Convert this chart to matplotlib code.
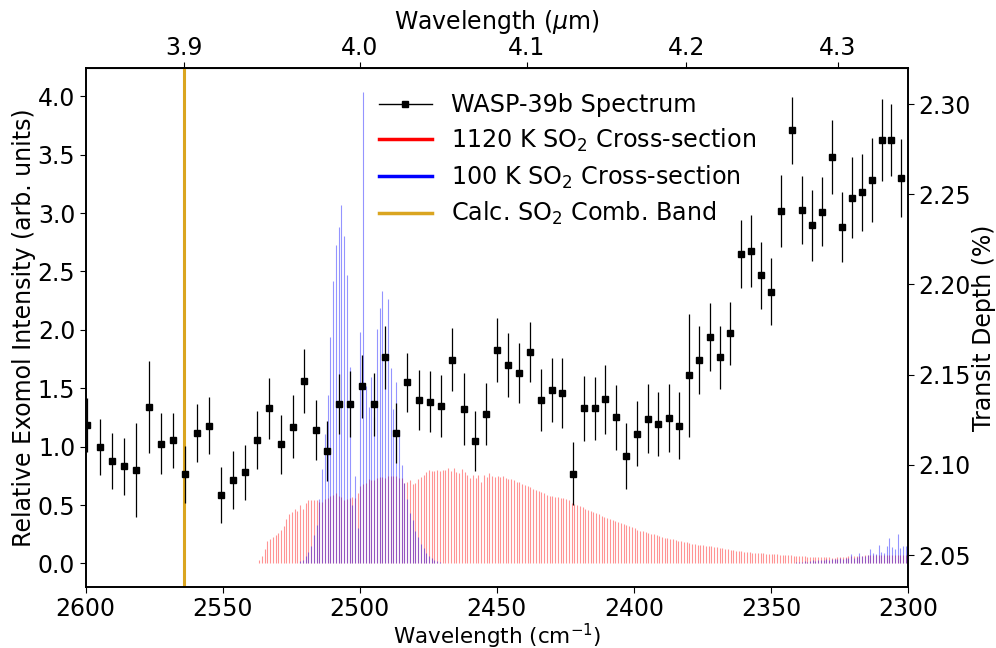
import numpy as np
import matplotlib
matplotlib.use("Agg")
import matplotlib.pyplot as plt
from matplotlib.lines import Line2D

# ---------------- data ----------------
wn_obs = [2599.6, 2594.9, 2590.5, 2586.0, 2581.5, 2577.0, 2572.7, 2568.2, 2563.8, 2559.4,
          2554.9, 2550.5, 2546.2, 2541.8, 2537.5, 2533.2, 2528.9, 2524.5, 2520.3, 2516.0,
          2511.8, 2507.7, 2503.4, 2499.1, 2495.0, 2490.9, 2486.7, 2482.6, 2478.3, 2474.3,
          2470.2, 2466.2, 2462.1, 2458.1, 2454.1, 2449.9, 2446.1, 2441.9, 2437.9, 2434.0,
          2430.0, 2426.1, 2422.2, 2418.3, 2414.3, 2410.4, 2406.5, 2402.7, 2398.9, 2395.0,
          2391.1, 2387.3, 2383.6, 2379.8, 2376.1, 2372.2, 2368.5, 2364.8, 2361.0, 2357.2,
          2353.5, 2349.8, 2346.2, 2342.4, 2338.7, 2334.9, 2331.2, 2327.6, 2323.9, 2320.4,
          2316.7, 2313.2, 2309.5, 2306.1, 2302.5]

depth = [2.1221, 2.1100, 2.1021, 2.0992, 2.0971, 2.1322, 2.1117, 2.1137, 2.0947, 2.1176,
         2.1217, 2.0831, 2.0917, 2.0958, 2.1139, 2.1313, 2.1114, 2.1211, 2.1465, 2.1193,
         2.1078, 2.1337, 2.1339, 2.1435, 2.1335, 2.1596, 2.1176, 2.1457, 2.1359, 2.1350,
         2.1328, 2.1583, 2.1311, 2.1132, 2.1282, 2.1638, 2.1553, 2.1509, 2.1625, 2.1358,
         2.1415, 2.1398, 2.0951, 2.1313, 2.1313, 2.1363, 2.1263, 2.1050, 2.1172, 2.1256,
         2.1226, 2.1261, 2.1217, 2.1496, 2.1581, 2.1710, 2.1596, 2.1729, 2.2170, 2.2187,
         2.2052, 2.1960, 2.2407, 2.2854, 2.2414, 2.2328, 2.2403, 2.2706, 2.2320, 2.2481,
         2.2511, 2.2579, 2.2802, 2.2802, 2.2590]

depth_err = [0.0148, 0.0155, 0.0157, 0.0158, 0.0261, 0.0254, 0.0169, 0.0152, 0.0160, 0.0161,
             0.0158, 0.0155, 0.0160, 0.0152, 0.0160, 0.0170, 0.0163, 0.0174, 0.0176, 0.0167,
             0.0167, 0.0167, 0.0182, 0.0174, 0.0174, 0.0173, 0.0167, 0.0163, 0.0168, 0.0170,
             0.0171, 0.0176, 0.0199, 0.0167, 0.0172, 0.0178, 0.0179, 0.0166, 0.0168, 0.0172,
             0.0179, 0.0192, 0.0176, 0.0182, 0.0175, 0.0190, 0.0182, 0.0183, 0.0180, 0.0191,
             0.0177, 0.0187, 0.0187, 0.0339, 0.0190, 0.0187, 0.0174, 0.0176, 0.0187, 0.0200,
             0.0186, 0.0187, 0.0200, 0.0187, 0.0190, 0.0198, 0.0192, 0.0203, 0.0195, 0.0226,
             0.0212, 0.0234, 0.0226, 0.0201, 0.0216]

# 1120 K cross-section, 1 cm^-1 grid from 2537.75 down to 2300.75
xs_hot_start, xs_hot_stop = 2537.75, 2300.75
xs_hot = [0.00, 0.03, 0.06, 0.12, 0.19, 0.21, 0.23, 0.24, 0.26, 0.29,
          0.32, 0.38, 0.42, 0.44, 0.47, 0.45, 0.50, 0.47, 0.52, 0.54,
          0.54, 0.54, 0.54, 0.53, 0.53, 0.55, 0.56, 0.58, 0.59, 0.60,
          0.58, 0.57, 0.54, 0.55, 0.56, 0.57, 0.56, 0.60, 0.66, 0.68,
          0.69, 0.72, 0.71, 0.71, 0.73, 0.74, 0.74, 0.73, 0.75, 0.75,
          0.75, 0.75, 0.73, 0.73, 0.69, 0.70, 0.71, 0.68, 0.69, 0.72,
          0.74, 0.76, 0.78, 0.80, 0.79, 0.79, 0.80, 0.79, 0.80, 0.80,
          0.82, 0.79, 0.82, 0.78, 0.77, 0.81, 0.78, 0.76, 0.73, 0.76,
          0.73, 0.76, 0.70, 0.76, 0.74, 0.77, 0.75, 0.74, 0.75, 0.74,
          0.75, 0.73, 0.72, 0.72, 0.71, 0.70, 0.70, 0.68, 0.67, 0.66,
          0.65, 0.64, 0.63, 0.62, 0.61, 0.60, 0.59, 0.58, 0.58, 0.57,
          0.57, 0.56, 0.56, 0.55, 0.54, 0.52, 0.51, 0.50, 0.49, 0.48,
          0.47, 0.46, 0.45, 0.44, 0.43, 0.42, 0.41, 0.40, 0.39, 0.38,
          0.37, 0.36, 0.355, 0.35, 0.34, 0.33, 0.32, 0.31, 0.30, 0.29,
          0.28, 0.275, 0.27, 0.26, 0.255, 0.25, 0.24, 0.235, 0.23, 0.22,
          0.215, 0.21, 0.205, 0.20, 0.195, 0.19, 0.185, 0.18, 0.175, 0.17,
          0.165, 0.16, 0.158, 0.155, 0.152, 0.15, 0.146, 0.142, 0.138, 0.134,
          0.13, 0.126, 0.122, 0.118, 0.114, 0.11, 0.107, 0.104, 0.101, 0.098,
          0.095, 0.093, 0.091, 0.089, 0.087, 0.085, 0.083, 0.081, 0.079, 0.078,
          0.077, 0.075, 0.073, 0.071, 0.070, 0.068, 0.066, 0.065, 0.064, 0.062,
          0.060, 0.059, 0.058, 0.057, 0.056, 0.055, 0.054, 0.053, 0.052, 0.051,
          0.050, 0.050, 0.052, 0.054, 0.056, 0.058, 0.060, 0.062, 0.064, 0.065,
          0.066, 0.067, 0.068, 0.069, 0.070, 0.071, 0.071, 0.072, 0.072, 0.073,
          0.073, 0.073, 0.073, 0.073, 0.073, 0.073, 0.073, 0.073]

# 100 K cross-section (two bands with non-zero values), 1 cm^-1 grid
xs_cold_a_start, xs_cold_a_stop = 2521.75, 2470.75
xs_cold_a = [0.02, 0.03, 0.06, 0.10, 0.15, 0.24, 0.33, 0.55, 0.81, 1.11,
             1.44, 1.94, 2.42, 2.73, 2.88, 3.07, 2.80, 2.47, 1.68, 0.50,
             0.75, 0.30, 1.98, 4.04, 1.52, 1.34, 1.60, 1.25, 2.01, 2.19,
             2.33, 1.80, 2.26, 1.67, 1.32, 1.55, 1.13, 0.84, 0.69, 0.55,
             0.43, 0.37, 0.28, 0.23, 0.17, 0.13, 0.085, 0.06, 0.05, 0.03,
             0.02, 0.01]
xs_cold_b_start, xs_cold_b_stop = 2340.75, 2300.75
xs_cold_b = [0.01, 0.015, 0.01, 0.02, 0.015, 0.02, 0.025, 0.02, 0.03, 0.025,
             0.03, 0.035, 0.03, 0.04, 0.035, 0.04, 0.05, 0.04, 0.05, 0.045,
             0.077, 0.05, 0.055, 0.09, 0.06, 0.065, 0.07, 0.12, 0.09, 0.08,
             0.16, 0.10, 0.09, 0.15, 0.22, 0.14, 0.12, 0.25, 0.13, 0.15,
             0.15]

comb_band_um = 3.9

legend_labels = ["WASP-39b Spectrum", "1120 K SO$_2$ Cross-section",
                 "100 K SO$_2$ Cross-section", "Calc. SO$_2$ Comb. Band"]

# ---------------- figure ----------------
plt.rcParams['font.family'] = ['DejaVu Sans']
FS = 17
W, H = 996, 648
fig = plt.figure(figsize=(W / 100, H / 100), dpi=100)
L, R, T, B = 85.7, 908.0, 68.0, 587.0
ax1 = fig.add_axes([L / W, 1 - B / H, (R - L) / W, (B - T) / H])

grid_hot = np.arange(xs_hot_start, xs_hot_stop - 0.5, -1.0)
grid_ca = np.arange(xs_cold_a_start, xs_cold_a_stop - 0.5, -1.0)
grid_cb = np.arange(xs_cold_b_start, xs_cold_b_stop - 0.5, -1.0)

ax1.vlines(grid_hot, 0, xs_hot, colors='red', alpha=0.42, lw=0.8)
ax1.vlines(grid_ca, 0, xs_cold_a, colors='blue', alpha=0.42, lw=0.8)
ax1.vlines(grid_cb, 0, xs_cold_b, colors='blue', alpha=0.42, lw=0.8)
ax1.axvline(1e4 / comb_band_um, color='goldenrod', lw=2.2)

ax1.set_xlim(2600, 2300)
ax1.set_ylim(-0.202, 4.242)
ax1.set_yticks(np.arange(0, 4.01, 0.5))
ax1.set_xticks([2600, 2550, 2500, 2450, 2400, 2350, 2300])
ax1.tick_params(labelsize=FS, length=4)
ax1.set_ylabel("Relative Exomol Intensity (arb. units)", fontsize=FS, labelpad=1)
ax1.set_xlabel("Wavelength (cm$^{-1}$)", fontsize=15.5, labelpad=0.5)

ax2 = ax1.twinx()
ax2.errorbar(wn_obs, depth, yerr=depth_err, fmt='s', color='black', ms=4,
             elinewidth=0.9, capsize=0)
ax2.set_ylim(2.0323, 2.3200)
ax2.set_yticks([2.05, 2.10, 2.15, 2.20, 2.25, 2.30])
ax2.tick_params(labelsize=FS, length=4)
ax2.set_ylabel("Transit Depth (%)", fontsize=FS, labelpad=1)

secax = ax1.secondary_xaxis('top', functions=(lambda x: 1e4 / x, lambda x: 1e4 / x))
secax.set_xticks([3.9, 4.0, 4.1, 4.2, 4.3])
secax.tick_params(labelsize=FS, length=4, pad=2)
secax.set_xlabel("Wavelength ($\\mu$m)", fontsize=FS, labelpad=4.5)

for ax in (ax1, ax2):
    for s in ax.spines.values():
        s.set_linewidth(1.2)

handles = [Line2D([0], [0], color='black', marker='s', ms=5, lw=1.0),
           Line2D([0], [0], color='red', lw=2.5),
           Line2D([0], [0], color='blue', lw=2.5),
           Line2D([0], [0], color='goldenrod', lw=2.5)]
fig.legend(handles, legend_labels, loc='upper left',
           bbox_to_anchor=(360 / W, 1 - 74 / H), frameon=False, fontsize=17.2,
           handlelength=2.2, handletextpad=0.8, labelspacing=0.4, borderpad=0.3)

fig.savefig("out.png", dpi=100)
